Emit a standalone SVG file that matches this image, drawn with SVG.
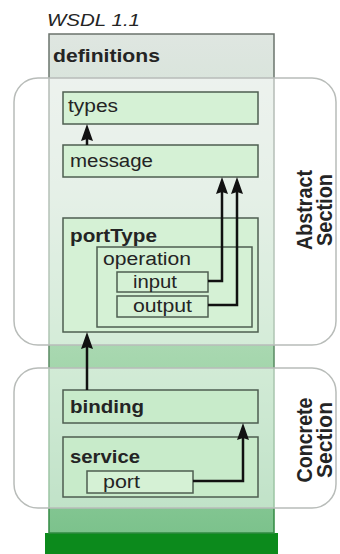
<svg xmlns="http://www.w3.org/2000/svg" width="340" height="554" viewBox="0 0 340 554">
<defs>
<linearGradient id="defFill" x1="0" y1="34" x2="0" y2="533" gradientUnits="userSpaceOnUse">
<stop offset="0" stop-color="#dfe6e1"/>
<stop offset="0.3" stop-color="#cde1d1"/>
<stop offset="0.65" stop-color="#a6d7ae"/>
<stop offset="1" stop-color="#7cc28c"/>
</linearGradient>
<linearGradient id="defStroke" x1="0" y1="34" x2="0" y2="533" gradientUnits="userSpaceOnUse">
<stop offset="0" stop-color="#6a726c"/>
<stop offset="0.5" stop-color="#6a8a70"/>
<stop offset="1" stop-color="#2f8a40"/>
</linearGradient>
<path id="head" d="M0,0 L6,17 L0,15 L-6,17 z"/>
</defs>
<style>
.t{font-family:"Liberation Sans",Arial,sans-serif;font-size:18px;fill:#242424}
.b{font-weight:bold}
.box{fill:#d5f1d5;stroke:#4e5e50;stroke-width:1.5}
.box2{fill:#c8ebca;stroke:#4e5e50;stroke-width:1.5}
.sec{fill:#ffffff;fill-opacity:0.5;stroke:#b8bcb9;stroke-width:1.5}
.arr{fill:none;stroke:#111;stroke-width:2.5}
.hd{fill:#111}
</style>
<rect width="340" height="554" fill="#ffffff"/>
<g id="title">
<text class="t" x="47" y="26" font-style="italic" textLength="93" lengthAdjust="spacingAndGlyphs" style="font-size:17px">WSDL 1.1</text>
</g>
<g id="definitions">
<rect x="45" y="533" width="233" height="21" fill="#0c8a1c"/>
<rect x="49" y="34" width="225" height="499" fill="url(#defFill)" stroke="url(#defStroke)" stroke-width="1.5"/>
<text class="t b" x="53" y="62" textLength="107" lengthAdjust="spacingAndGlyphs">definitions</text>
</g>
<g id="abstract-section">
<rect class="sec" x="14" y="78" width="322" height="267" rx="24"/>
<text class="t b" transform="translate(312,210) scale(1.25,1) rotate(-90)" text-anchor="middle" textLength="80" lengthAdjust="spacingAndGlyphs">Abstract</text>
<text class="t b" transform="translate(332,210) scale(1.25,1) rotate(-90)" text-anchor="middle" textLength="72" lengthAdjust="spacingAndGlyphs">Section</text>
</g>
<g id="concrete-section">
<rect class="sec" x="14" y="368" width="322" height="140" rx="24"/>
<text class="t b" transform="translate(312,440) scale(1.25,1) rotate(-90)" text-anchor="middle" textLength="85" lengthAdjust="spacingAndGlyphs">Concrete</text>
<text class="t b" transform="translate(332,440) scale(1.25,1) rotate(-90)" text-anchor="middle" textLength="76" lengthAdjust="spacingAndGlyphs">Section</text>
</g>
<g id="types">
<rect class="box" x="63" y="92" width="195" height="32"/>
<text class="t" x="68" y="112" textLength="50" lengthAdjust="spacingAndGlyphs">types</text>
</g>
<g id="message">
<rect class="box" x="63" y="145" width="195" height="32"/>
<text class="t" x="70" y="167" textLength="83" lengthAdjust="spacingAndGlyphs">message</text>
</g>
<g id="portType">
<rect class="box" x="63" y="218" width="195" height="114"/>
<text class="t b" x="70" y="242" textLength="87" lengthAdjust="spacingAndGlyphs">portType</text>
</g>
<g id="operation">
<rect class="box" x="97" y="247" width="155" height="80"/>
<text class="t" x="103" y="265" textLength="88" lengthAdjust="spacingAndGlyphs">operation</text>
</g>
<g id="input">
<rect class="box" x="117" y="272" width="91" height="20"/>
<text class="t" x="133" y="288" textLength="44" lengthAdjust="spacingAndGlyphs">input</text>
</g>
<g id="output">
<rect class="box" x="117" y="296" width="91" height="21"/>
<text class="t" x="133" y="312" textLength="59" lengthAdjust="spacingAndGlyphs">output</text>
</g>
<g id="binding">
<rect class="box2" x="63" y="390" width="195" height="33"/>
<text class="t b" x="70" y="413" textLength="74" lengthAdjust="spacingAndGlyphs">binding</text>
</g>
<g id="service">
<rect class="box2" x="63" y="437" width="195" height="60"/>
<text class="t b" x="70" y="463" textLength="70" lengthAdjust="spacingAndGlyphs">service</text>
</g>
<g id="port">
<rect class="box" x="87" y="471" width="106" height="22"/>
<text class="t" x="103" y="488" textLength="37" lengthAdjust="spacingAndGlyphs">port</text>
</g>
<g id="connectors">
<path class="arr" d="M87,145 L87,134"/>
<path class="arr" d="M208,281 L222,281 L222,187"/>
<path class="arr" d="M208,305 L237,305 L237,187"/>
<path class="arr" d="M87,390 L87,342"/>
<path class="arr" d="M193,481 L243,481 L243,433"/>
<use class="hd" href="#head" x="87" y="124"/>
<use class="hd" href="#head" x="222" y="177"/>
<use class="hd" href="#head" x="237" y="177"/>
<use class="hd" href="#head" x="87" y="332"/>
<use class="hd" href="#head" x="243" y="423"/>
</g>
</svg>
